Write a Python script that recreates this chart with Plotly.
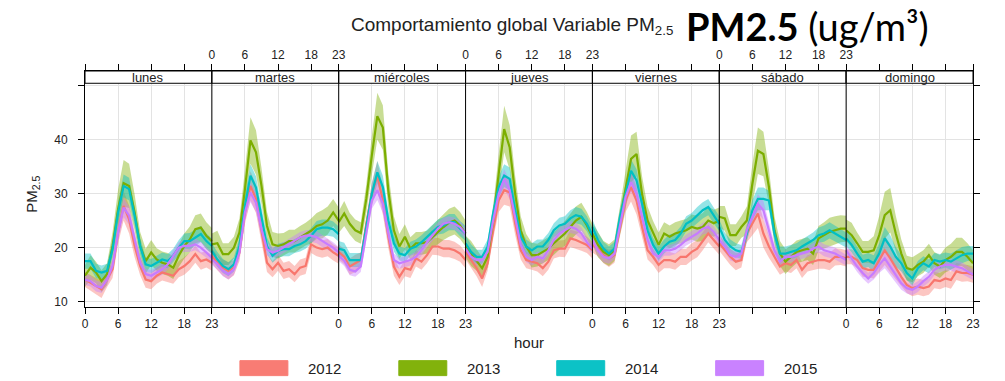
import plotly.graph_objects as go

# --- data -----------------------------------------------------------------
days = ["lunes", "martes", "miércoles", "jueves", "viernes", "sábado", "domingo"]
years = ["2012", "2013", "2014", "2015"]
hours = list(range(24))
hour_ticks = [0, 6, 12, 18, 23]
y_ticks = [10, 20, 30, 40, 50]
y_tick_text = ["10", "20", "30", "40", ""]

# mean PM2.5 by hour, one list per weekday (lunes .. domingo)
pm25_2012 = [
    [14.1, 13.5, 12.9, 12.3, 14.1, 16.0, 22.8, 27.7, 25.2, 20.3, 16.6, 14.1, 13.8, 14.8, 15.4, 15.1, 14.8, 16.0, 16.6, 17.5, 18.8, 17.5, 17.8, 17.2],
    [18.5, 17.2, 16.3, 15.7, 16.3, 19.1, 26.5, 31.4, 29.0, 22.8, 17.2, 16.0, 17.2, 15.7, 16.0, 15.1, 16.3, 16.6, 20.6, 20.0, 19.7, 20.0, 19.1, 18.5],
    [19.2, 18.3, 16.5, 17.1, 17.7, 24.4, 29.9, 33.3, 28.7, 22.0, 16.5, 14.6, 16.2, 15.9, 18.0, 17.4, 18.6, 20.2, 20.2, 19.8, 19.8, 19.5, 18.9, 17.7],
    [19.2, 17.7, 16.2, 14.3, 17.1, 23.2, 28.7, 30.6, 30.2, 24.4, 19.5, 17.7, 17.4, 17.1, 16.2, 17.4, 19.5, 19.8, 19.8, 21.7, 21.4, 21.0, 20.5, 19.5],
    [20.5, 19.8, 18.6, 18.0, 18.6, 23.8, 28.7, 31.2, 28.7, 23.8, 19.5, 18.3, 16.8, 17.7, 17.7, 17.4, 18.3, 18.3, 19.2, 19.8, 21.1, 22.6, 21.4, 20.2],
    [20.8, 19.5, 18.3, 17.4, 17.7, 22.6, 24.4, 26.3, 22.6, 20.2, 18.3, 16.5, 17.1, 16.8, 17.7, 15.9, 17.1, 17.4, 17.7, 17.7, 17.4, 18.3, 18.3, 18.0],
    [18.3, 18.3, 17.7, 16.2, 15.9, 15.9, 17.7, 19.5, 18.0, 16.2, 14.6, 13.1, 12.5, 12.8, 12.5, 12.8, 14.0, 13.8, 14.3, 14.0, 15.6, 15.3, 15.3, 15.0],
]
pm25_2013 = [
    [14.8, 16.3, 15.4, 13.8, 15.1, 20.3, 27.1, 31.9, 31.4, 26.5, 20.3, 17.5, 19.1, 17.8, 17.2, 16.9, 16.3, 18.5, 20.3, 21.5, 23.4, 23.7, 22.2, 21.2],
    [20.6, 20.8, 18.8, 18.8, 20.0, 22.8, 30.8, 39.8, 37.6, 31.4, 24.0, 20.6, 20.3, 20.6, 21.2, 21.2, 21.9, 22.5, 23.1, 24.0, 24.3, 25.0, 26.5, 25.0],
    [24.7, 26.3, 24.4, 23.2, 22.7, 29.0, 37.0, 44.3, 42.2, 30.5, 23.2, 20.2, 22.0, 19.8, 20.8, 20.8, 21.0, 22.0, 22.9, 23.8, 24.6, 25.0, 24.1, 22.6],
    [20.2, 18.9, 17.7, 16.2, 18.3, 25.0, 33.6, 41.9, 38.5, 29.9, 23.2, 20.2, 18.6, 18.6, 19.2, 19.8, 20.8, 21.7, 22.6, 23.8, 25.0, 25.7, 24.1, 22.0],
    [22.6, 20.5, 19.2, 18.6, 19.5, 25.0, 30.6, 36.4, 37.3, 29.9, 25.0, 22.6, 20.5, 22.6, 22.0, 22.6, 22.9, 23.2, 23.8, 23.5, 23.8, 25.0, 24.5, 25.0],
    [25.7, 25.4, 22.3, 22.3, 23.8, 25.0, 31.8, 37.9, 37.3, 31.2, 23.2, 18.9, 17.4, 18.3, 19.2, 19.5, 19.8, 18.9, 21.7, 22.3, 22.9, 23.2, 23.5, 23.5],
    [23.2, 22.3, 20.8, 19.2, 19.2, 19.5, 22.3, 26.0, 26.9, 22.6, 18.9, 16.2, 15.9, 16.8, 17.4, 18.6, 17.1, 16.5, 17.7, 18.3, 19.2, 19.2, 18.3, 17.1],
]
pm25_2014 = [
    [17.5, 17.5, 15.7, 15.4, 15.7, 19.7, 26.5, 31.4, 30.8, 25.9, 20.3, 16.9, 16.6, 17.2, 17.8, 17.5, 18.5, 20.0, 21.2, 21.2, 21.9, 22.5, 21.2, 20.3],
    [19.4, 17.8, 16.6, 16.0, 16.9, 20.3, 27.7, 33.3, 31.1, 25.9, 20.3, 18.5, 19.4, 19.7, 19.7, 20.3, 20.6, 21.2, 22.2, 23.4, 23.7, 23.7, 23.4, 22.5],
    [19.8, 19.5, 17.7, 17.7, 17.7, 23.8, 29.9, 33.9, 31.2, 25.0, 20.8, 18.9, 18.6, 19.8, 20.2, 21.0, 22.0, 22.9, 23.8, 24.1, 24.7, 24.7, 23.5, 22.6],
    [20.8, 19.2, 18.3, 18.3, 20.2, 26.3, 31.2, 33.3, 32.7, 26.9, 22.0, 20.2, 19.5, 20.2, 20.2, 21.4, 23.2, 24.1, 24.4, 25.4, 26.0, 25.7, 24.4, 22.3],
    [23.8, 21.4, 19.8, 18.9, 19.8, 25.7, 29.9, 34.2, 32.4, 28.1, 23.2, 20.5, 18.9, 20.2, 21.1, 21.4, 22.6, 24.4, 25.0, 26.0, 26.9, 27.5, 26.0, 24.4],
    [23.8, 21.4, 20.2, 19.5, 19.2, 22.6, 26.9, 29.0, 29.0, 28.7, 22.6, 18.9, 18.9, 19.2, 19.5, 20.2, 20.8, 21.4, 22.3, 22.6, 23.2, 22.6, 22.0, 21.4],
    [21.7, 20.5, 18.9, 17.4, 17.7, 17.1, 18.9, 21.7, 20.2, 18.3, 17.1, 15.3, 14.3, 16.2, 17.1, 16.5, 17.7, 17.4, 17.7, 17.4, 18.0, 18.6, 18.9, 18.9],
]
pm25_2015 = [
    [14.1, 13.8, 12.9, 12.6, 14.1, 16.6, 22.8, 27.4, 25.9, 21.5, 17.2, 15.1, 14.8, 15.4, 16.0, 16.9, 18.5, 20.0, 20.3, 20.3, 20.6, 20.0, 19.1, 18.1],
    [17.8, 16.9, 15.7, 15.1, 16.0, 19.1, 26.5, 30.2, 28.3, 23.4, 19.7, 19.1, 19.4, 20.0, 20.6, 21.2, 21.9, 22.2, 22.2, 21.9, 21.2, 20.6, 20.0, 19.1],
    [18.5, 17.6, 15.9, 15.6, 16.5, 22.6, 28.7, 30.6, 28.1, 22.6, 17.7, 17.1, 17.4, 17.7, 18.3, 19.5, 21.0, 22.3, 23.5, 24.4, 24.7, 24.4, 23.8, 22.6],
    [19.8, 18.3, 17.7, 17.7, 19.2, 25.0, 29.9, 32.7, 30.6, 25.7, 20.5, 18.3, 17.7, 18.3, 18.0, 19.5, 21.4, 22.6, 23.2, 23.8, 23.5, 22.6, 21.0, 19.8],
    [21.4, 19.5, 18.3, 18.0, 18.9, 24.4, 29.3, 32.1, 29.9, 25.7, 21.4, 18.9, 18.3, 19.5, 19.5, 19.8, 20.5, 21.4, 22.0, 22.6, 23.5, 23.8, 22.9, 21.4],
    [21.4, 20.2, 18.6, 18.3, 18.9, 23.2, 25.7, 28.1, 26.9, 23.2, 19.5, 17.4, 18.3, 18.3, 18.6, 18.9, 19.2, 19.8, 20.2, 19.5, 19.2, 18.9, 18.3, 17.7],
    [19.5, 18.0, 16.5, 15.3, 14.3, 15.3, 16.8, 18.0, 16.5, 15.0, 13.4, 12.5, 12.2, 12.8, 13.8, 14.6, 15.9, 16.5, 16.8, 16.8, 16.5, 16.2, 15.6, 15.0],
]

# half-width of the confidence band by hour
ci_2012 = [1.4, 1.4, 1.5, 1.6, 1.4, 1.6, 2.1, 2.7, 2.6, 2.1, 1.7, 1.5, 1.5, 1.5, 1.5, 1.5, 1.5, 1.5, 1.6, 1.6, 1.6, 1.6, 1.5, 1.5]
ci_2013 = [2.0, 2.3, 2.0, 2.0, 2.0, 2.6, 3.6, 4.3, 4.1, 3.3, 2.6, 2.3, 2.3, 2.1, 2.1, 2.1, 2.1, 2.1, 2.3, 2.4, 2.6, 2.6, 2.5, 2.4]
ci_2014 = [1.4, 1.4, 1.3, 1.3, 1.3, 1.5, 1.9, 2.1, 2.1, 1.8, 1.5, 1.3, 1.3, 1.3, 1.3, 1.3, 1.3, 1.4, 1.4, 1.5, 1.5, 1.5, 1.4, 1.4]
ci_2015 = [1.0, 1.0, 1.0, 1.0, 1.0, 1.2, 1.5, 1.8, 1.7, 1.5, 1.2, 1.0, 1.0, 1.0, 1.0, 1.0, 1.0, 1.0, 1.1, 1.1, 1.1, 1.1, 1.0, 1.0]

colors = ["#F8766D", "#7CAE00", "#00BFC4", "#C77CFF"]
band_colors = ["rgba(248,118,109,0.42)", "rgba(124,174,0,0.42)",
               "rgba(0,191,196,0.42)", "rgba(199,124,255,0.42)"]
means = [pm25_2012, pm25_2013, pm25_2014, pm25_2015]
halfwidths = [ci_2012, ci_2013, ci_2014, ci_2015]

# --- geometry ---------------------------------------------------------------
W, H = 1005, 381
PX_L, PX_R, PX_T, PX_B = 85, 973.5, 71, 307.3   # plot area in pixels
Y_LO, Y_HI = 9.02, 52.64                        # y range (top part holds the strips)
STRIP_Y = 50.37                                 # lower edge of the strips
SPAN = hours[-1]                                # each weekday panel spans 0..23
X_MAX = SPAN * len(days)
FONT = "Liberation Sans"


def px_x(px):
    return (px - PX_L) / (PX_R - PX_L)


def px_y(py):
    return (PX_B - py) / (PX_B - PX_T)


fig = go.Figure()

# confidence bands
for yi, year in enumerate(years):
    bx, by = [], []
    for d in range(len(days)):
        m, hw = means[yi][d], halfwidths[yi]
        up = [v + w for v, w in zip(m, hw)]
        lo = [v - w for v, w in zip(m, hw)]
        xs = [d * SPAN + h for h in hours]
        bx += xs + xs[::-1] + [None]
        by += up + lo[::-1] + [None]
    fig.add_trace(go.Scatter(x=bx, y=by, mode="lines", fill="toself",
                             fillcolor=band_colors[yi], line=dict(width=0),
                             hoverinfo="skip", showlegend=False))

# hourly means (on the top-labelled twin x axis, same range)
for yi, year in enumerate(years):
    lx, ly = [], []
    for d in range(len(days)):
        lx += [d * SPAN + h for h in hours] + [None]
        ly += means[yi][d] + [None]
    fig.add_trace(go.Scatter(x=lx, y=ly, mode="lines", name=year, xaxis="x2", yaxis="y",
                             line=dict(color=colors[yi], width=2.2),
                             showlegend=False))

# tick positions shared by every panel; labels alternate bottom / top
tickvals = sorted({d * SPAN + t for d in range(len(days)) for t in hour_ticks})
bottom_lbl, top_lbl = {}, {}
for d in range(len(days)):
    target = bottom_lbl if d % 2 == 0 else top_lbl
    for t in hour_ticks:
        target[d * SPAN + t] = str(t)
bottom_text = [bottom_lbl.get(v, "") for v in tickvals]
top_text = [top_lbl.get(v, "") for v in tickvals]

shapes = []
# weekday strips
for d in range(len(days)):
    shapes.append(dict(type="rect", xref="x", yref="y", x0=d * SPAN, x1=(d + 1) * SPAN,
                       y0=STRIP_Y, y1=Y_HI, fillcolor="white",
                       line=dict(color="black", width=1), layer="above"))
# panel separators
for d in range(1, len(days)):
    shapes.append(dict(type="line", xref="x", yref="y", x0=d * SPAN, x1=d * SPAN,
                       y0=Y_LO, y1=Y_HI, line=dict(color="black", width=1), layer="above"))

annotations = []
for d, day in enumerate(days):
    annotations.append(dict(x=d * SPAN + SPAN / 2, y=(STRIP_Y + Y_HI) / 2, xref="x", yref="y",
                            text=day, showarrow=False, yanchor="middle",
                            font=dict(family=FONT, size=13, color="#222")))

# legend drawn as wide colour keys
legend_box_px = [240, 399, 557, 716]
for yi, year in enumerate(years):
    x0 = legend_box_px[yi]
    shapes.append(dict(type="rect", xref="paper", yref="paper",
                       x0=px_x(x0), x1=px_x(x0 + 48), y0=px_y(376), y1=px_y(361),
                       fillcolor=colors[yi], line=dict(color=colors[yi], width=1),
                       opacity=0.95))
    annotations.append(dict(x=px_x(x0 + 66), y=px_y(369), xref="paper", yref="paper",
                            text=year, showarrow=False, xanchor="left", yanchor="middle",
                            font=dict(family=FONT, size=15, color="#222")))

annotations += [
    dict(x=0.5, y=px_y(343), xref="paper", yref="paper", text="hour", showarrow=False,
         yanchor="middle", font=dict(family=FONT, size=15, color="#222")),
    dict(x=px_x(33), y=px_y(195), xref="paper", yref="paper", text="PM<sub>2.5</sub>",
         textangle=-90, showarrow=False, xanchor="center", yanchor="middle",
         font=dict(family=FONT, size=15, color="#222")),
    dict(x=px_x(512), y=px_y(26), xref="paper", yref="paper",
         text="Comportamiento global Variable PM<sub>2.5</sub>", showarrow=False,
         xanchor="center", yanchor="middle", font=dict(family=FONT, size=19, color="#222")),
    dict(x=px_x(684), y=px_y(26), xref="paper", yref="paper",
         text="<b>PM2.5</b> (ug/m³)", showarrow=False,
         xanchor="left", yanchor="middle", font=dict(family="Lato", size=38, color="black")),
]

axis_common = dict(range=[0, X_MAX], tickvals=tickvals, ticks="outside", ticklen=6,
                   tickcolor="black", tickfont=dict(family=FONT, size=12, color="#222"),
                   zeroline=False, fixedrange=True)

fig.update_layout(
    width=W, height=H,
    margin=dict(l=PX_L, r=W - PX_R, t=PX_T, b=H - PX_B, pad=0),
    paper_bgcolor="white", plot_bgcolor="white",
    showlegend=False,
    xaxis=dict(**axis_common, ticktext=bottom_text, showgrid=True, gridcolor="#E3E3E3",
               showline=True, linecolor="black", linewidth=1, mirror="ticks"),
    xaxis2=dict(**axis_common, ticktext=top_text, overlaying="x", side="top",
                showgrid=False, showline=False),
    yaxis=dict(range=[Y_LO, Y_HI], tickvals=y_ticks, ticktext=y_tick_text,
               ticks="outside", ticklen=6, tickcolor="black",
               tickfont=dict(family=FONT, size=12, color="#222"),
               showgrid=True, gridcolor="#E3E3E3", zeroline=False,
               showline=True, linecolor="black", linewidth=1, mirror="ticks",
               ticklabelstandoff=8, fixedrange=True),
    shapes=shapes,
    annotations=annotations,
)

fig.write_html("out.html")
